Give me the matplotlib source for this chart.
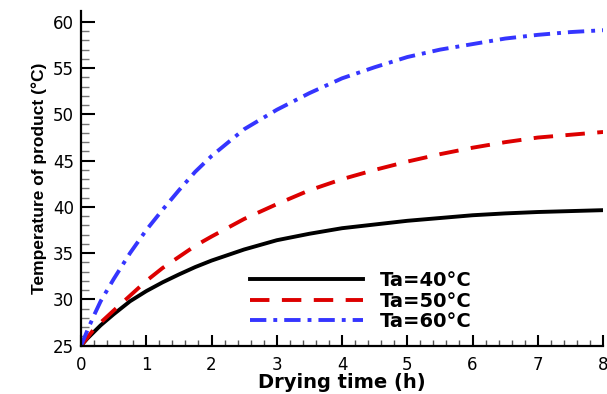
import numpy as np
import matplotlib
matplotlib.use("Agg")
import matplotlib.pyplot as plt
from matplotlib.ticker import MultipleLocator, FixedLocator

plt.rcParams['font.family'] = ['DejaVu Sans']

# Drying time (h)
time_h = [0, 0.1, 0.2, 0.3, 0.5, 0.75, 1, 1.25, 1.5, 1.75, 2, 2.5, 3, 3.5, 4,
          4.5, 5, 5.5, 6, 6.5, 7, 7.5, 8]

# Product temperature (°C) for each air temperature
temp_40 = [25, 25.8, 26.5, 27.2, 28.4, 29.8, 30.9, 31.85, 32.7, 33.5, 34.2, 35.4,
           36.4, 37.1, 37.7, 38.1, 38.5, 38.8, 39.1, 39.3, 39.45, 39.55, 39.65]
temp_50 = [25, 25.9, 26.8, 27.5, 28.8, 30.4, 32.0, 33.4, 34.6, 35.8, 36.8, 38.7,
           40.3, 41.8, 43.0, 44.0, 44.9, 45.7, 46.4, 47.0, 47.5, 47.8, 48.1]
temp_60 = [25, 26.7, 28.3, 29.8, 32.2, 35.0, 37.5, 39.7, 41.8, 43.8, 45.5, 48.4,
           50.5, 52.3, 53.9, 55.1, 56.2, 57.0, 57.6, 58.2, 58.6, 58.9, 59.1]

labels = ['Ta=40°C', 'Ta=50°C', 'Ta=60°C']

fig = plt.figure(figsize=(6.07, 3.94), dpi=100)
ax = fig.add_axes([0.1335, 0.1226, 0.86, 0.85])

ax.plot(time_h, temp_40, color='black', lw=2.8, label=labels[0])
ax.plot(time_h, temp_50, color='#dd0000', lw=2.8, dashes=(5, 3.2), label=labels[1])
ax.plot(time_h, temp_60, color='#3535ff', lw=2.8, dashes=(4.2, 1.8, 1.0, 1.8),
        label=labels[2])

ax.set_xlim(0, 8)
ax.set_ylim(25, 61.2)

ax.spines['top'].set_visible(False)
ax.spines['right'].set_visible(False)
ax.spines['left'].set_linewidth(1.6)
ax.spines['bottom'].set_linewidth(1.6)

ax.xaxis.set_major_locator(MultipleLocator(1))
ax.xaxis.set_minor_locator(MultipleLocator(0.2))
ax.set_yticks([25, 30, 35, 40, 45, 50, 55, 60])
ax.yaxis.set_minor_locator(FixedLocator(np.arange(25, 61, 1)))

ax.tick_params(axis='both', which='major', direction='in', width=1.5, labelsize=12)
ax.tick_params(axis='y', which='major', length=10, pad=5)
ax.tick_params(axis='x', which='major', length=8, pad=7.5)
ax.tick_params(axis='y', which='minor', direction='in', length=5.5, width=1.0,
               color='#777777')
ax.tick_params(axis='x', which='minor', direction='in', length=4, width=1.0,
               color='#555555')

ax.set_xlabel('Drying time (h)', fontsize=14, fontweight='bold', labelpad=-0.5)
ax.set_ylabel('Temperature of product (°C)', fontsize=12.5, fontweight='bold',
              family=['Liberation Sans', 'DejaVu Sans'], labelpad=4)

leg = ax.legend(loc='lower left', bbox_to_anchor=(0.29, -0.009), frameon=False,
                prop={'size': 14, 'weight': 'bold'}, handlelength=5.8,
                handletextpad=0.9, labelspacing=0.08)

fig.savefig('out.png', dpi=100)
